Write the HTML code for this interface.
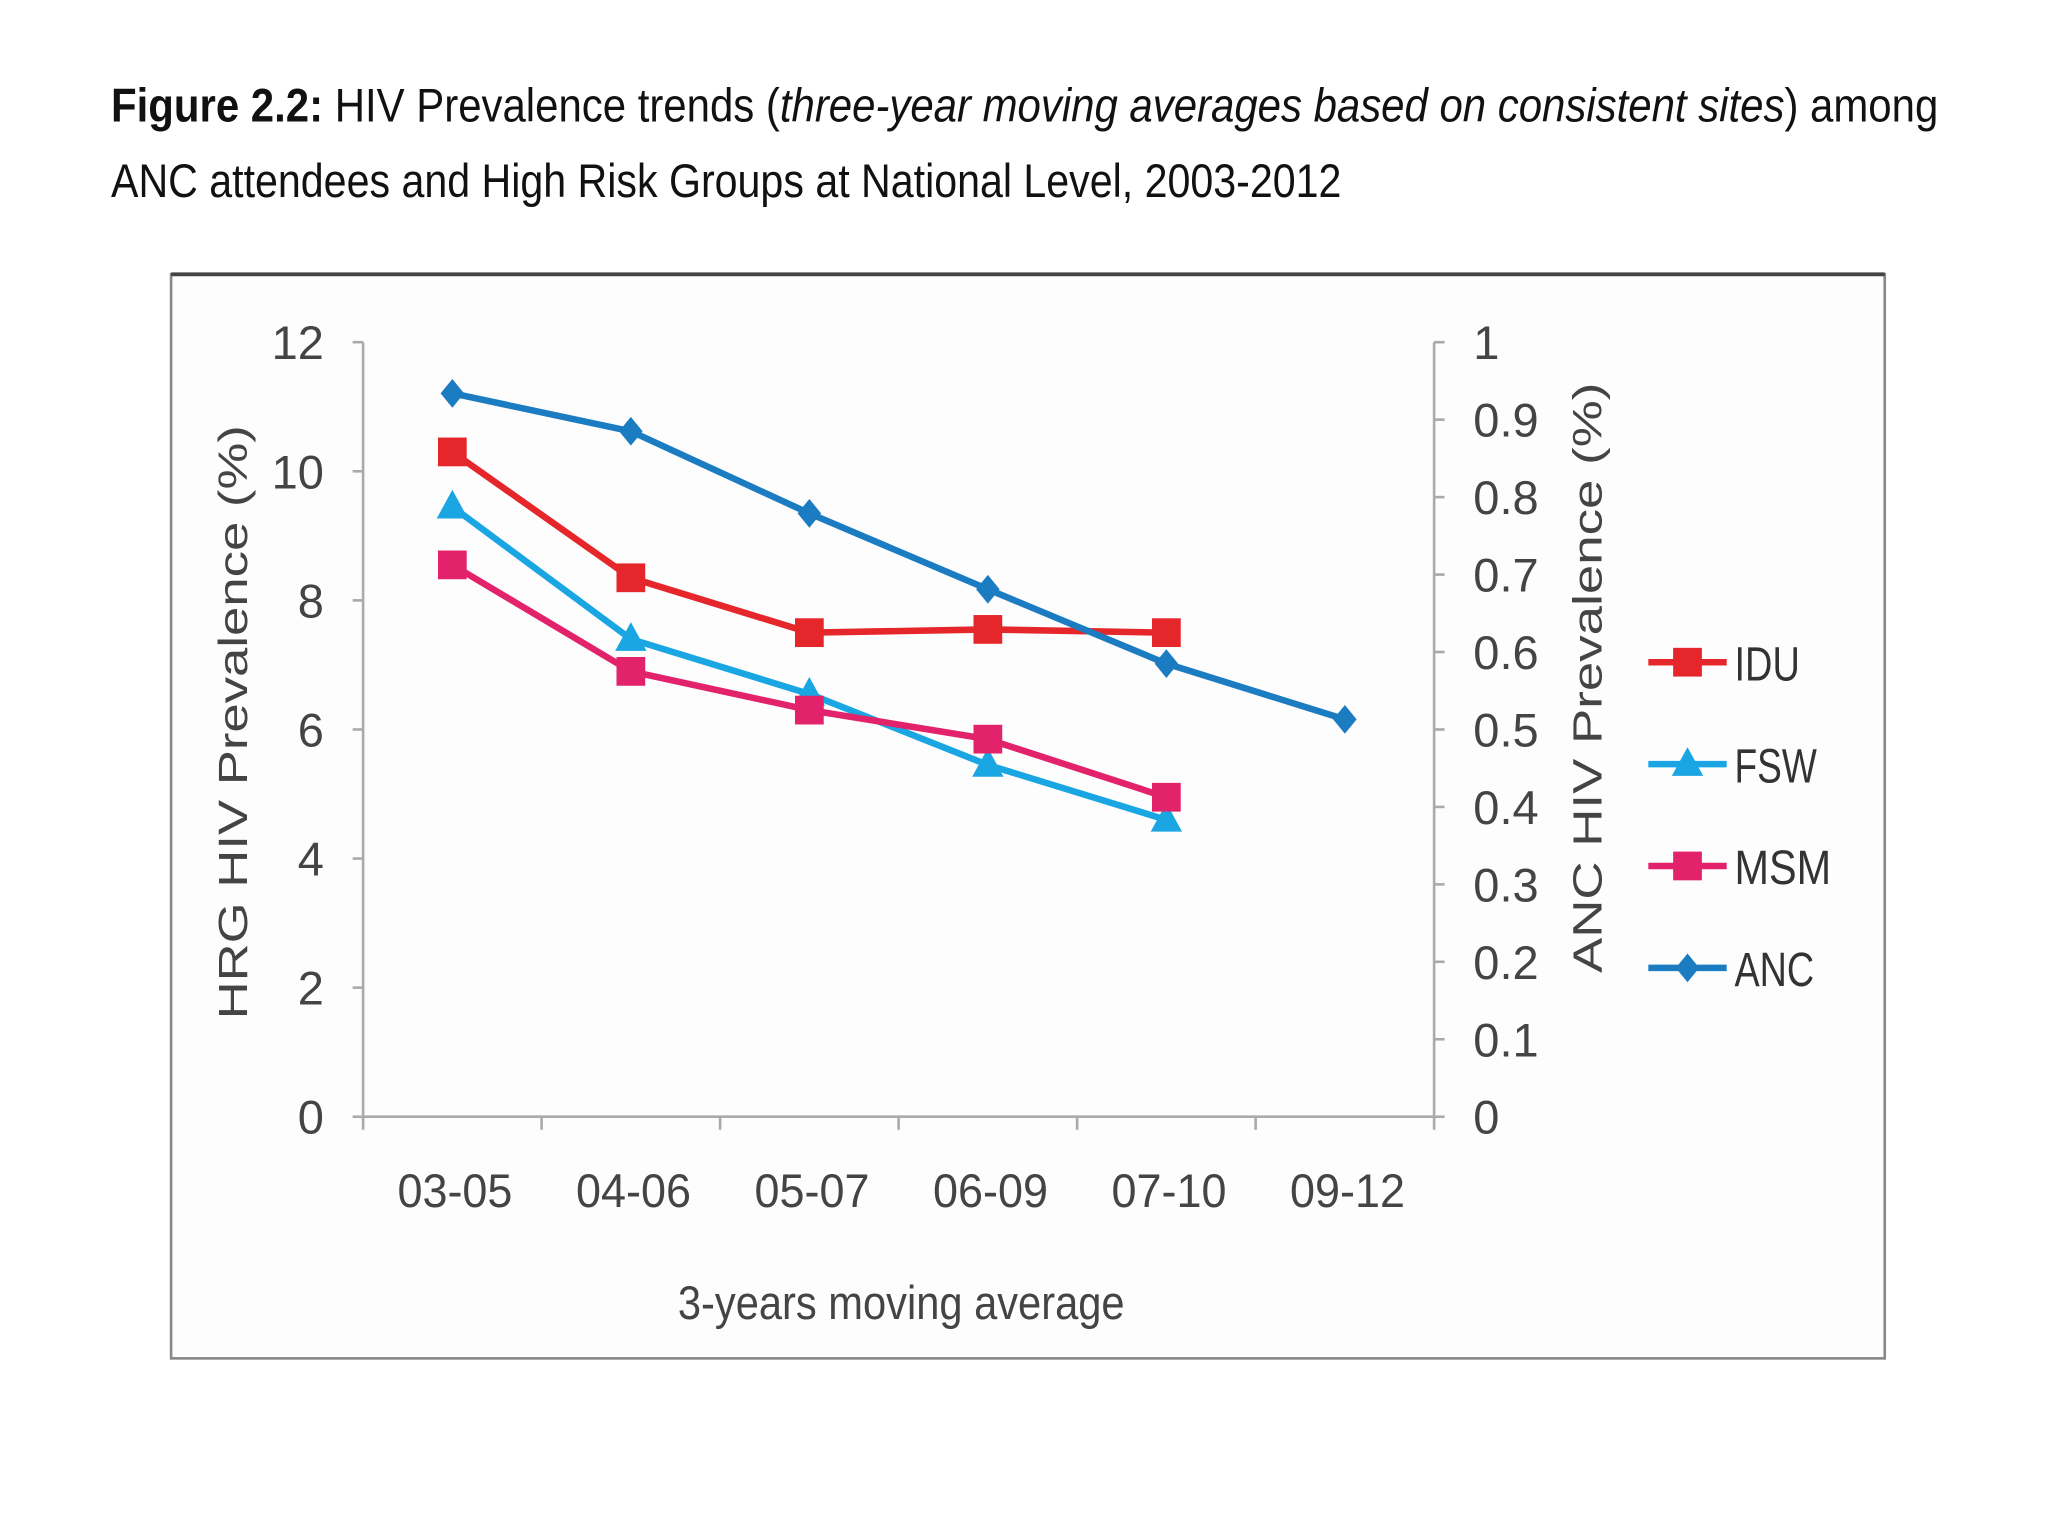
<!DOCTYPE html>
<html><head><meta charset="utf-8"><style>
html,body{margin:0;padding:0;background:#fff;}
svg{display:block;}
text{font-family:"Liberation Sans",sans-serif;}
</style></head><body>
<svg id="chart" width="2048" height="1536" viewBox="0 0 1568 1176" xmlns="http://www.w3.org/2000/svg">
<rect width="1568" height="1176" fill="#fff"/>
<text x="85" y="93" font-size="36" fill="#111" textLength="1399" lengthAdjust="spacingAndGlyphs"><tspan font-weight="bold">Figure 2.2:</tspan> HIV Prevalence trends (<tspan font-style="italic">three-year moving averages based on consistent sites</tspan>) among</text>
<text x="85" y="151" font-size="36" fill="#111" textLength="942" lengthAdjust="spacingAndGlyphs">ANC attendees and High Risk Groups at National Level, 2003-2012</text>
<rect x="131" y="210" width="1312" height="830" fill="#fdfdfd" stroke="#888" stroke-width="2"/>
<line x1="131" y1="210" x2="1443" y2="210" stroke="#444" stroke-width="3"/>
<g id="axes"></g>
<g id="series"></g>
<g id="legend"></g>
</svg>
<script>
const categories=["03-05","04-06","05-07","06-09","07-10","09-12"];
const leftTicks=[0,2,4,6,8,10,12];
const rightTicks=[0,0.1,0.2,0.3,0.4,0.5,0.6,0.7,0.8,0.9,1];
const rightTickLabels=["0","0.1","0.2","0.3","0.4","0.5","0.6","0.7","0.8","0.9","1"];
const idu=[10.3,8.35,7.5,7.55,7.5];
const fsw=[9.45,7.4,6.55,5.45,4.6];
const msm=[8.55,6.9,6.3,5.85,4.95];
const anc=[0.934,0.885,0.779,0.681,0.585,0.513];

const NS="http://www.w3.org/2000/svg";
const X0=278,X1=1098,Y0=855,Y1=262;
const band=(X1-X0)/categories.length;
const xs=i=>X0+band*(i+0.5);
const yl=v=>Y0-(v/12)*(Y0-Y1);
const yr=v=>Y0-v*(Y0-Y1);
function mk(tag,attrs,parent,txt){const e=document.createElementNS(NS,tag);for(const k in attrs)e.setAttribute(k,attrs[k]);if(txt!==undefined)e.textContent=txt;parent.appendChild(e);return e;}
const axes=document.getElementById('axes');
const grey="#aaa",lab="#444";
let e;
e=mk('line',{x1:X0,y1:Y1,x2:X0,y2:Y0,stroke:grey,'stroke-width':2},axes);


e=mk('line',{x1:X1,y1:Y1,x2:X1,y2:Y0,stroke:grey,'stroke-width':2},axes);


e=mk('line',{x1:X0,y1:Y0,x2:X1,y2:Y0,stroke:grey,'stroke-width':2},axes);


leftTicks.forEach(v=>{
 mk('line',{x1:X0-8,y1:yl(v),x2:X0,y2:yl(v),stroke:grey,'stroke-width':2},axes);
 e=mk('text',{x:248,y:yl(v)+13,'font-size':36,fill:lab,'text-anchor':'end'},axes,String(v));
 
 
});
rightTicks.forEach((v,i)=>{
 mk('line',{x1:X1,y1:yr(v),x2:X1+8,y2:yr(v),stroke:grey,'stroke-width':2},axes);
 e=mk('text',{x:1128,y:yr(v)+13,'font-size':36,fill:lab},axes,rightTickLabels[i]);
 
 
});
for(let i=0;i<=categories.length;i++){mk('line',{x1:X0+band*i,y1:Y0,x2:X0+band*i,y2:Y0+10,stroke:grey,'stroke-width':2},axes);}
categories.forEach((c,i)=>{
 e=mk('text',{x:xs(i)+2,y:924,'font-size':36,fill:lab,'text-anchor':'middle',textLength:88,lengthAdjust:'spacingAndGlyphs'},axes,c);
 
 
});
e=mk('text',{x:690,y:1010,'font-size':36,fill:lab,'text-anchor':'middle',textLength:342,lengthAdjust:'spacingAndGlyphs'},axes,'3-years moving average');


e=mk('text',{x:0,y:0,'font-size':31,fill:lab,'text-anchor':'middle',transform:'translate(189,553) rotate(-90)',textLength:455,lengthAdjust:'spacingAndGlyphs'},axes,'HRG HIV Prevalence (%)');


e=mk('text',{x:0,y:0,'font-size':31,fill:lab,'text-anchor':'middle',transform:'translate(1226,519) rotate(-90)',textLength:452,lengthAdjust:'spacingAndGlyphs'},axes,'ANC HIV Prevalence (%)');



const seriesG=document.getElementById('series');
function marker(type,x,y,color,g){
 if(type==='sq')return mk('rect',{x:x-11,y:y-11,width:22,height:22,fill:color},g);
 if(type==='tri')return mk('polygon',{points:`${x},${y-13} ${x+12},${y+9} ${x-12},${y+9}`,fill:color},g);
 return mk('polygon',{points:`${x},${y-11} ${x+9},${y} ${x},${y+11} ${x-9},${y}`,fill:color},g);
}
const defs=[
 {name:'fsw',vals:fsw,color:'#1aa6e2',m:'tri',y:yl},
 {name:'msm',vals:msm,color:'#e3226c',m:'sq',y:yl},
 {name:'idu',vals:idu,color:'#e5262b',m:'sq',y:yl},
 {name:'anc',vals:anc,color:'#1b7cc2',m:'dia',y:yr}
];
defs.forEach(d=>{
 const g=mk('g',{},seriesG);
 
 
 const pts=d.vals.map((v,i)=>xs(i)+','+d.y(v)).join(' ');
 e=mk('polyline',{points:pts,fill:'none',stroke:d.color,'stroke-width':5,'stroke-linejoin':'round'},g);
 
 
 d.vals.forEach((v,i)=>{
  e=marker(d.m,xs(i),d.y(v),d.color,g);
  
  
 });
});
const legendItems=[['IDU','#e5262b','sq',50],['FSW','#1aa6e2','tri',63],['MSM','#e3226c','sq',74],['ANC','#1b7cc2','dia',61]];
const lg=document.getElementById('legend');
legendItems.forEach((it,i)=>{
 const y=507+i*78;
 const g=mk('g',{},lg);
 
 
 mk('line',{x1:1262,y1:y,x2:1322,y2:y,stroke:it[1],'stroke-width':5},g);
 marker(it[2],1292,y,it[1],g);
 mk('text',{x:1328,y:y+14,'font-size':37,fill:'#333',textLength:it[3],lengthAdjust:'spacingAndGlyphs'},g,it[0]);
});
</script>
</body></html>
